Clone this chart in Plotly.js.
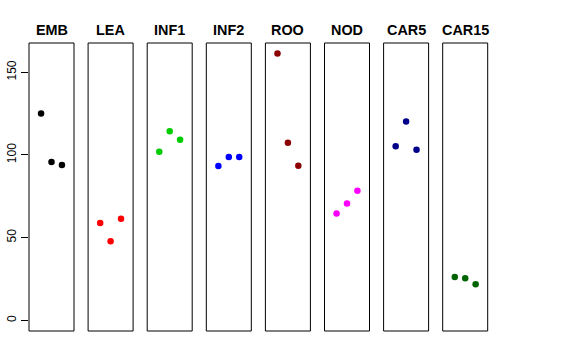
<!DOCTYPE html>
<html>
<head>
<meta charset="utf-8">
<script src="https://cdn.plot.ly/plotly-3.0.1.min.js"></script>
<style>html,body{margin:0;padding:0;background:#fff;}#chart{width:576px;height:360px;}</style>
</head>
<body>
<div id="chart"></div>
<script>
// ---- data ----
const panels = ["EMB", "LEA", "INF1", "INF2", "ROO", "NOD", "CAR5", "CAR15"];
const xIndex = [1, 2, 3];
const EMB   = [125.0, 95.7, 93.9];
const LEA   = [58.9, 47.8, 61.4];
const INF1  = [101.9, 114.3, 109.2];
const INF2  = [93.3, 98.7, 98.7];
const ROO   = [161.3, 107.4, 93.5];
const NOD   = [64.6, 70.7, 78.3];
const CAR5  = [105.2, 120.2, 103.2];
const CAR15 = [26.2, 25.4, 21.8];
const yTicks = [0, 50, 100, 150];
const colors = ["#000000", "#FF0000", "#00CD00", "#0000FF", "#8B0000", "#FF00FF", "#00008B", "#006400"];

const seriesList = [EMB, LEA, INF1, INF2, ROO, NOD, CAR5, CAR15];

const traces = [];
const layout = {
  width: 576, height: 360,
  margin: {l: 29, r: 88, t: 43, b: 29, pad: 0},
  paper_bgcolor: "#fff", plot_bgcolor: "#fff",
  showlegend: false,
  font: {family: "Liberation Sans, Arial, sans-serif", color: "#000"},
  shapes: [], annotations: []
};

const plotW = 576 - 29 - 88;
const period = 59.1, boxW = 45;

panels.forEach((name, i) => {
  const n = i + 1;
  const xa = n === 1 ? "x" : "x" + n;
  traces.push({
    x: xIndex, y: seriesList[i], xaxis: xa, yaxis: "y",
    type: "scatter", mode: "markers",
    marker: {color: colors[i], size: 6.5},
    hoverinfo: "skip"
  });
  const d0 = (i * period) / plotW;
  const d1 = Math.min(1, (i * period + boxW) / plotW);
  layout[n === 1 ? "xaxis" : "xaxis" + n] = {
    domain: [d0, d1], range: [-0.16, 4.16], anchor: "y",
    showticklabels: false, ticks: "", showgrid: false, zeroline: false, showline: false
  };
  layout.shapes.push({
    type: "rect", xref: xa + " domain", yref: "y domain",
    x0: 0, x1: 1, y0: 0, y1: 1, line: {color: "#000", width: 1}, layer: "above"
  });
  layout.annotations.push({
    text: "<b>" + name + "</b>", xref: xa + " domain", x: 0.5, xanchor: "center",
    yref: "paper", y: 1, yanchor: "middle", yshift: 13, showarrow: false,
    font: {size: 14.4, family: "Liberation Sans, Arial, sans-serif", color: "#000"}
  });
});

layout.yaxis = {
  range: [-6.45, 167.7], anchor: "x",
  tickvals: yTicks, ticktext: yTicks.map(String),
  ticks: "outside", ticklen: 7, tickwidth: 1, tickcolor: "#000",
  tickangle: -90, tickfont: {size: 12, color: "#000"},
  showgrid: false, zeroline: false, showline: false
};

Plotly.newPlot("chart", traces, layout, {staticPlot: true, displayModeBar: false});
</script>
</body>
</html>
